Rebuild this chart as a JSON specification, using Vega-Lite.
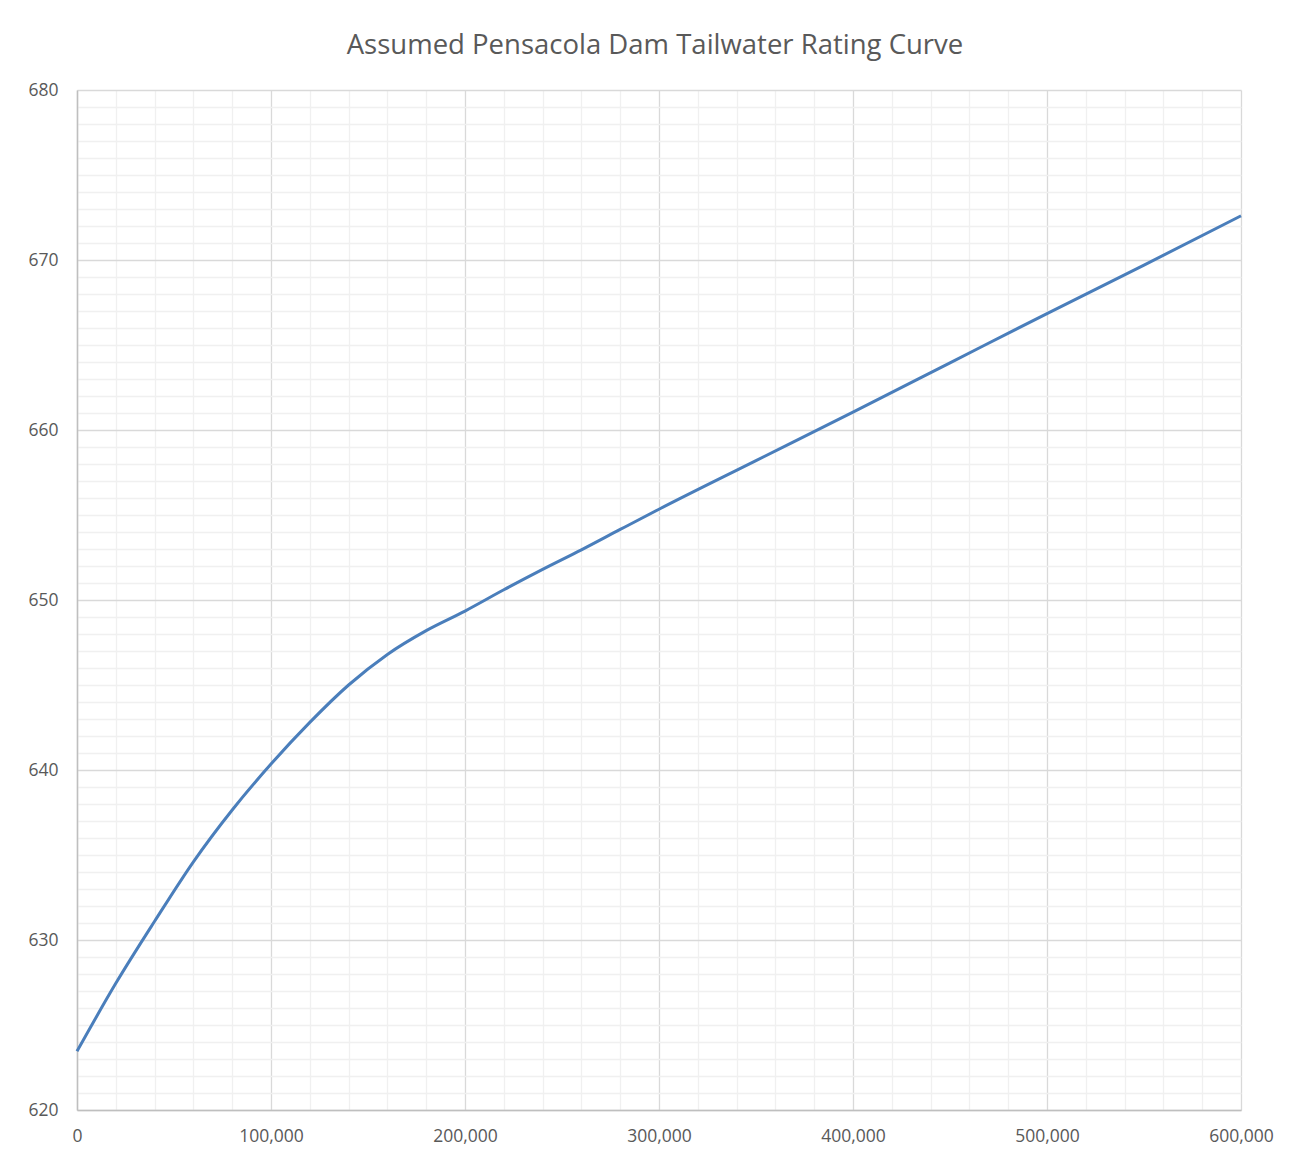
{
  "$schema": "https://vega.github.io/schema/vega-lite/v6.json",
  "autosize": {"type": "none"},
  "padding": {"left": 77, "top": 90, "right": 52, "bottom": 50},
  "width": 1164,
  "height": 1020,
  "background": "white",
  "title": {
    "text": "Assumed Pensacola Dam Tailwater Rating Curve",
    "font": "Open Sans",
    "fontSize": 27.5,
    "fontWeight": "normal",
    "color": "#595959",
    "anchor": "middle",
    "offset": 22,
    "dx": -4
  },
  "config": {
    "view": {"stroke": null},
    "axis": {"labelFont": "Open Sans", "labelFontSize": 17.5, "labelColor": "#595959"}
  },
  "data": {
    "values": [
      {"flow": 0, "elev": 623.45},
      {"flow": 20000, "elev": 627.45},
      {"flow": 40000, "elev": 631.1},
      {"flow": 60000, "elev": 634.6},
      {"flow": 80000, "elev": 637.65},
      {"flow": 100000, "elev": 640.35},
      {"flow": 120000, "elev": 642.8},
      {"flow": 140000, "elev": 645.0},
      {"flow": 160000, "elev": 646.8},
      {"flow": 180000, "elev": 648.2},
      {"flow": 200000, "elev": 649.35},
      {"flow": 220000, "elev": 650.6},
      {"flow": 240000, "elev": 651.8},
      {"flow": 260000, "elev": 652.95},
      {"flow": 280000, "elev": 654.15},
      {"flow": 300000, "elev": 655.34},
      {"flow": 350000, "elev": 658.2},
      {"flow": 400000, "elev": 661.05},
      {"flow": 450000, "elev": 663.95},
      {"flow": 500000, "elev": 666.85},
      {"flow": 550000, "elev": 669.7},
      {"flow": 600000, "elev": 672.6}
    ]
  },
  "resolve": {"axis": {"x": "independent", "y": "independent"}},
  "layer": [
    {
      "mark": {"type": "line", "opacity": 0},
      "encoding": {
        "x": {
          "field": "flow", "type": "quantitative",
          "scale": {"domain": [0, 600000], "nice": false, "zero": false},
          "axis": {
            "orient": "bottom",
            "values": [20000, 40000, 60000, 80000, 120000, 140000, 160000, 180000, 220000, 240000, 260000, 280000, 320000, 340000, 360000, 380000, 420000, 440000, 460000, 480000, 520000, 540000, 560000, 580000],
            "grid": true, "gridColor": "#f0f0f0", "gridWidth": 1.3,
            "labels": false, "ticks": false, "domain": false, "title": null
          }
        },
        "y": {
          "field": "elev", "type": "quantitative",
          "scale": {"domain": [620, 680], "nice": false, "zero": false},
          "axis": {
            "orient": "left",
            "values": [621, 622, 623, 624, 625, 626, 627, 628, 629, 631, 632, 633, 634, 635, 636, 637, 638, 639, 641, 642, 643, 644, 645, 646, 647, 648, 649, 651, 652, 653, 654, 655, 656, 657, 658, 659, 661, 662, 663, 664, 665, 666, 667, 668, 669, 671, 672, 673, 674, 675, 676, 677, 678, 679],
            "grid": true, "gridColor": "#f0f0f0", "gridWidth": 1.3,
            "labels": false, "ticks": false, "domain": false, "title": null
          }
        }
      }
    },
    {
      "mark": {"type": "line", "color": "#4a7ebb", "strokeWidth": 3, "interpolate": "monotone"},
      "encoding": {
        "x": {
          "field": "flow", "type": "quantitative",
          "scale": {"domain": [0, 600000], "nice": false, "zero": false},
          "axis": {
            "orient": "bottom",
            "values": [0, 100000, 200000, 300000, 400000, 500000, 600000],
            "format": ",d",
            "grid": true, "gridColor": "#d9d9d9", "gridWidth": 1.3,
            "domain": true, "domainColor": "#bfbfbf", "domainWidth": 1.5,
            "ticks": false, "labelPadding": 17, "labelFlush": false, "title": null
          }
        },
        "y": {
          "field": "elev", "type": "quantitative",
          "scale": {"domain": [620, 680], "nice": false, "zero": false},
          "axis": {
            "orient": "left",
            "values": [620, 630, 640, 650, 660, 670, 680],
            "grid": true, "gridColor": "#d9d9d9", "gridWidth": 1.3,
            "domain": true, "domainColor": "#bfbfbf", "domainWidth": 1.5,
            "ticks": false, "labelPadding": 19, "labelFlush": false, "title": null
          }
        }
      }
    }
  ]
}
